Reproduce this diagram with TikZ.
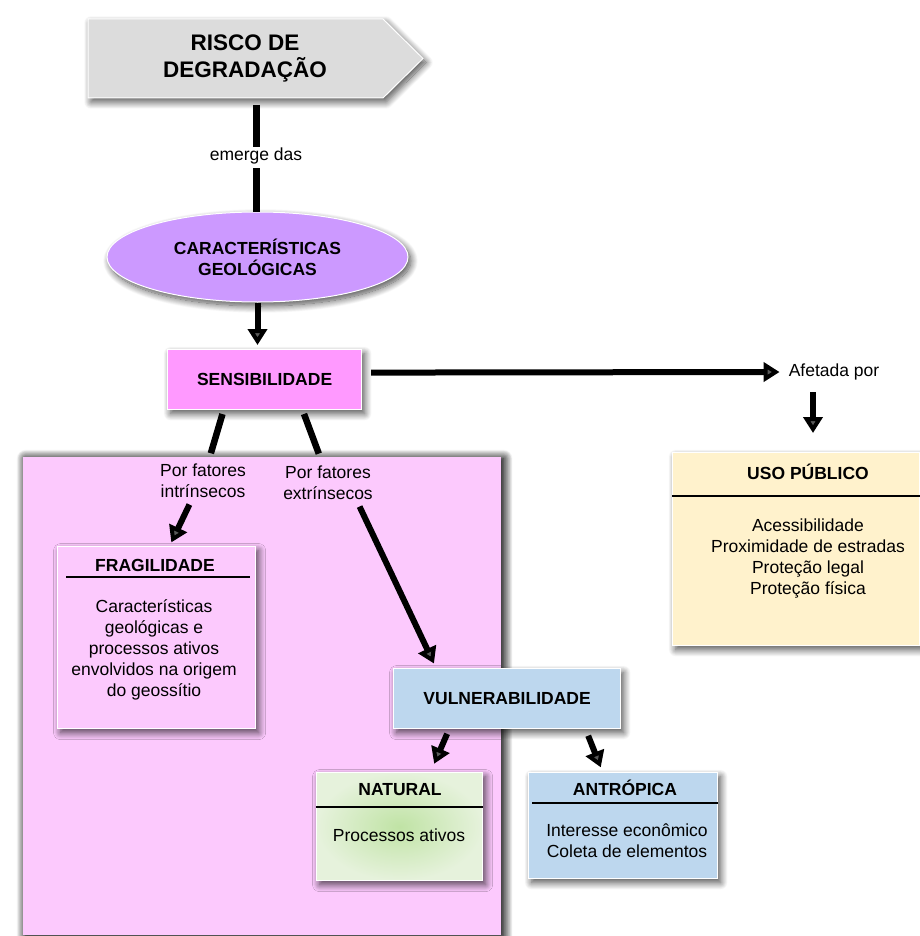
\documentclass[tikz,border=0pt]{standalone}
\usepackage{fontspec}
\setmainfont{Liberation Sans}
\usetikzlibrary{arrows.meta,shapes.geometric,shadows.blur}
\definecolor{titlefill}{RGB}{220,220,220}
\definecolor{geofill}{RGB}{204,153,255}
\definecolor{sensfill}{RGB}{255,153,255}
\definecolor{pinkbg}{RGB}{252,201,253}
\definecolor{usofill}{RGB}{255,242,204}
\definecolor{bluefill}{RGB}{189,215,238}
\definecolor{greenin}{RGB}{192,227,165}
\definecolor{greenout}{RGB}{230,242,220}
\tikzset{
  shad/.style={blur shadow={shadow xshift=3pt,shadow yshift=-4pt,shadow blur radius=7pt,shadow blur steps=14,shadow opacity=70}},
  boxnode/.style={draw=white, line width=1.2pt, shad, inner sep=0pt, anchor=north west},
  hdr/.style={font=\fontsize{17.5}{21}\selectfont\bfseries, inner sep=0pt},
  body/.style={font=\fontsize{17.5}{21}\selectfont, align=center, inner sep=0pt},
  lbl/.style={font=\fontsize{17.5}{21}\selectfont, align=center, inner sep=1pt},
  conn/.style={line width=6.5pt},
  arr/.style={line width=6pt, -{Triangle[length=16pt,width=19pt]}},
  sepline/.style={line width=1.3pt, black}
}
\begin{document}
\begin{tikzpicture}[x=1pt,y=-1pt]
\useasboundingbox (0,0) rectangle (919,936);
% title
\fill[titlefill, draw=white, line width=1pt, shad] (88,19) -- (383,19) -- (423,58.5) -- (383,98) -- (88,98) -- cycle;
\node[font=\fontsize{22.5}{27}\selectfont\bfseries, align=center, inner sep=0pt] (risk) at (245,58.5) {RISCO DE\\DEGRADAÇÃO};
\coordinate (riskbot) at (256,98);
% emerge das
\node[lbl] (emerge) at (256,156) {emerge das};
% ellipse
\node[ellipse, fill=geofill, draw=white, line width=1pt, shad, minimum width=301pt, minimum height=90pt, inner sep=0pt, align=center, font=\fontsize{17.5}{21}\selectfont\bfseries] (geo) at (257.5,257) {CARACTERÍSTICAS\\GEOLÓGICAS};
\draw[line width=7pt, shorten <=7pt] (riskbot) -- (emerge.north);
\draw[line width=7pt, shorten <=3pt] (emerge.south) -- (emerge.south |- geo.north);
% sensibilidade
\node[boxnode, fill=sensfill, minimum width=194pt, minimum height=60pt, hdr] (sens) at (167,349) {SENSIBILIDADE};
\draw[arr, shorten >=4pt] (geo.south) -- (geo.south |- sens.north);
% afetada por / uso publico
\node[lbl, inner sep=0pt] (aft) at (834,372) {Afetada por};
\draw[arr, shorten <=9pt, shorten >=9pt] ([yshift=7pt]sens.east) -- (aft.west);
\node[boxnode, fill=usofill, minimum width=247pt, minimum height=193pt] (uso) at (672,452) {};
\node[hdr] (usoT) at (808,472) {USO PÚBLICO};
\draw[sepline] (uso.west |- 0,496) coordinate (usoL) -- (usoL -| uso.east);
\node[body] (usoB) at (808,558.5) {Acessibilidade\\Proximidade de estradas\\Proteção legal\\Proteção física};
\draw[arr, shorten <=12pt, shorten >=19pt] ([xshift=-21pt]aft.south) -- ([xshift=-21pt]aft.south |- uso.north);
% pink region
\node[boxnode, fill=pinkbg, draw=none, minimum width=478pt, minimum height=478pt,
  blur shadow={shadow xshift=3pt,shadow yshift=-2pt,shadow blur radius=9pt,shadow blur steps=14,shadow opacity=75}] (bg) at (22,456) {};
% fragilidade
\node[boxnode, fill=pinkbg, minimum width=198pt, minimum height=182pt] (frag) at (57,546) {};
\node[hdr] (fragT) at (155,565) {FRAGILIDADE};
\draw[sepline] (66,577) coordinate (fragL) -- (250,577) coordinate (fragR);
\node[body] (fragB) at (154,649.5) {Características\\geológicas e\\processos ativos\\envolvidos na origem\\do geossítio};
% labels
\node[lbl] (intr) at (203,481) {Por fatores\\intrínsecos};
\node[lbl] (extr) at (328,483) {Por fatores\\extrínsecos};
% vulnerabilidade
\node[boxnode, fill=bluefill, minimum width=227pt, minimum height=60pt, hdr] (vuln) at (393,668) {VULNERABILIDADE};
% natural
\node[boxnode, inner color=greenin, outer color=greenout, minimum width=166pt, minimum height=108pt] (nat) at (316,772) {};
\node[hdr] (natT) at (400,790) {NATURAL};
\draw[sepline] (nat.west |- 0,807) coordinate (natL) -- (natL -| nat.east);
\node[body] (natB) at (399,835) {Processos ativos};
% antropica
\node[boxnode, fill=bluefill, minimum width=189pt, minimum height=106pt] (ant) at (528,772) {};
\node[hdr] (antT) at (625,788) {ANTRÓPICA};
\draw[sepline] (532,803) coordinate (antL) -- (antL -| ant.east);
\node[body] (antB) at (627,841) {Interesse econômico\\Coleta de elementos};
% connectors
\draw[conn, shorten <=4pt, shorten >=10pt] ([xshift=-41pt]sens.south) -- ([xshift=5pt]intr.north);
\draw[conn, shorten <=4pt, shorten >=12pt] ([xshift=38pt]sens.south) -- ([xshift=-5pt]extr.north);
\draw[arr, shorten <=6pt, shorten >=4pt] ([xshift=-11pt]intr.south) -- ([xshift=13pt]frag.north);
\draw[arr, shorten <=6pt, shorten >=5pt] ([xshift=29pt]extr.south) -- ([xshift=-71pt]vuln.north);
\draw[arr, shorten <=5pt, shorten >=9pt] ([xshift=-58pt]vuln.south) -- ([xshift=31pt]nat.north);
\draw[arr, shorten <=7pt, shorten >=5pt] ([xshift=78.5pt]vuln.south) -- ([xshift=-20.5pt]ant.north);
\end{tikzpicture}
\end{document}
